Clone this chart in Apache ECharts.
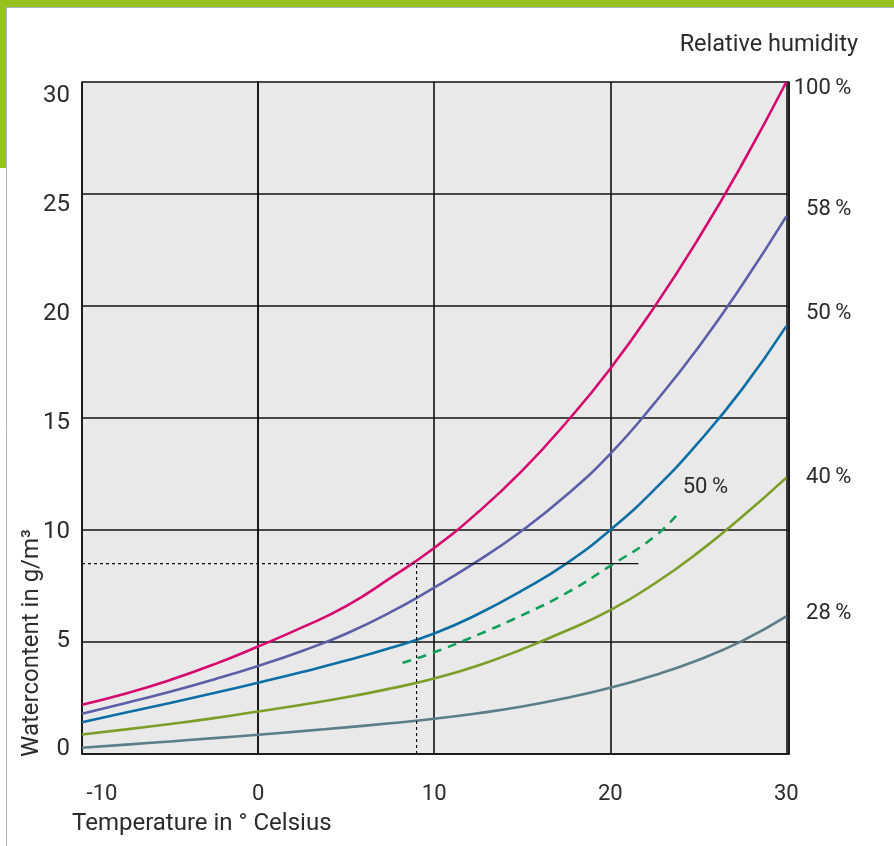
<!DOCTYPE html>
<html>
<head>
<meta charset="utf-8">
<title>Watercontent of air</title>
<script src="https://cdn.jsdelivr.net/npm/echarts@6/dist/echarts.min.js"></script>
<style>
  html, body { margin: 0; padding: 0; background: #ffffff; }
  #chart { width: 894px; height: 846px; }
</style>
</head>
<body>
<div id="chart"></div>
<script>
// Temperatures (°C) at which the humidity curves are sampled
const temps = [-10, -7.5, -5, -2.5, 0, 2.5, 5, 7.5, 10, 12.5, 15, 17.5, 20, 22.5, 25, 27.5, 30];

// Water content (g/m³) per curve
const rh100 = [2.2, 2.7, 3.3, 4.0, 4.8, 5.65, 6.6, 7.85, 9.2, 10.8, 12.65, 14.8, 17.2, 19.95, 23.0, 26.35, 30.0];
const rh58  = [1.8, 2.28, 2.78, 3.33, 3.93, 4.6, 5.37, 6.32, 7.43, 8.63, 9.98, 11.55, 13.4, 15.65, 18.15, 20.95, 24.0];
const rh50  = [1.42, 1.85, 2.28, 2.72, 3.18, 3.66, 4.17, 4.73, 5.38, 6.25, 7.3, 8.5, 10.0, 11.8, 13.9, 16.3, 19.1];
const rh40  = [0.87, 1.1, 1.34, 1.6, 1.9, 2.2, 2.53, 2.92, 3.37, 3.95, 4.68, 5.5, 6.42, 7.6, 9.0, 10.6, 12.34];
const rh28  = [0.28, 0.42, 0.56, 0.71, 0.86, 1.02, 1.19, 1.37, 1.57, 1.82, 2.12, 2.5, 2.96, 3.52, 4.2, 5.05, 6.14];

// Dashed 50 % curve (partial range)
const dashTemps = [8.2, 10, 12.5, 15, 17.5, 20, 22.5, 24];
const dash50    = [4.07, 4.54, 5.33, 6.2, 7.18, 8.4, 9.7, 10.87];

// Reading example: 9 °C at 8.5 g/m³, carried across to 21.6 °C
const refTemp = 9;
const refWater = 8.5;
const refEndTemp = 21.6;

// Axis ticks
const xTicks = [-10, 0, 10, 20, 30];
const yTicks = [0, 5, 10, 15, 20, 25, 30];

// Curve labels on the right
const curveLabels = ['100\u2009%', '58\u2009%', '50\u2009%', '40\u2009%', '28\u2009%'];
const innerLabel = '50\u2009%';

const FONT = 'Roboto';
const TEXT = '#2b2b2b';

const zip = (xs, ys) => xs.map((x, i) => [x, ys[i]]);

function curve(name, values, color, labelText, dy) {
  const last = values.length - 1;
  return {
    name: name,
    type: 'line',
    data: zip(temps, values),
    smooth: true,
    showSymbol: false,
    silent: true,
    clip: false,
    lineStyle: { color: color, width: 2.6 },
    markPoint: {
      symbol: 'circle',
      symbolSize: 0,
      silent: true,
      data: [{ coord: [temps[last], values[last]] }],
      label: {
        show: true,
        formatter: labelText,
        position: 'inside',
        align: 'right',
        verticalAlign: 'middle',
        offset: [65, dy],
        fontFamily: FONT,
        fontSize: 22,
        color: TEXT
      }
    }
  };
}

const chart = echarts.init(document.getElementById('chart'), null, { renderer: 'canvas' });

const option = {
  animation: false,
  backgroundColor: '#ffffff',
  grid: {
    left: 82, top: 82, right: 105, bottom: 92,
    show: true,
    backgroundColor: '#e8e9e8',
    borderColor: '#1e1e1e',
    borderWidth: 1.5
  },
  xAxis: {
    type: 'value',
    min: xTicks[0],
    max: 30.15,
    interval: 10,
    axisLine: { show: true, lineStyle: { color: '#111', width: 1.5 } },
    axisTick: { show: false },
    splitLine: { show: true, lineStyle: { color: '#111', width: 1.6 } },
    axisLabel: {
      margin: 29,
      fontFamily: FONT,
      fontSize: 22,
      color: TEXT,
      formatter: v => {
        if (!xTicks.includes(Math.round(v * 1000) / 1000)) return '';
        return v === xTicks[0] ? '{m|' + v + '}' : String(v);
      },
      rich: {
        m: { fontFamily: FONT, fontSize: 22, color: TEXT, padding: [0, 0, 0, 40] }
      }
    }
  },
  yAxis: [
    {
      type: 'value',
      min: yTicks[0],
      max: yTicks[yTicks.length - 1],
      interval: 5,
      axisLine: { show: true, lineStyle: { color: '#111', width: 1.5 } },
      axisTick: { show: false },
      axisLabel: { show: false },
      splitLine: { show: true, lineStyle: { color: '#474747', width: 2 } }
    },
    {
      // label-only axis, spaced slightly tighter than the grid lines
      type: 'value',
      min: -0.21,
      max: 30.66,
      splitNumber: 6,
      position: 'left',
      axisLine: { show: false },
      axisTick: { show: false },
      splitLine: { show: false },
      axisLabel: {
        margin: 12,
        fontFamily: FONT,
        fontSize: 24,
        color: TEXT,
        formatter: v => {
          const r = Math.round(v);
          return (Math.abs(v - r) < 1e-6 && yTicks.includes(r)) ? String(r) : '';
        }
      }
    }
  ],
  series: [
    curve('100 %', rh100, '#d6086f', curveLabels[0], 6.5),
    curve('58 %', rh58, '#5b5fa8', curveLabels[1], -7),
    curve('50 %', rh50, '#0b6fa6', curveLabels[2], -13),
    curve('40 %', rh40, '#7b9e27', curveLabels[3], 0),
    curve('28 %', rh28, '#5b7e88', curveLabels[4], -3),
    {
      name: 'dashed 50 %',
      type: 'line',
      data: zip(dashTemps, dash50),
      smooth: true,
      showSymbol: false,
      silent: true,
      lineStyle: { color: '#11a05a', width: 2.6, type: [9, 7] },
      markPoint: {
        symbol: 'circle',
        symbolSize: 0,
        silent: true,
        data: [{ coord: [dashTemps[dashTemps.length - 1], dash50[dash50.length - 1]] }],
        label: {
          show: true,
          formatter: innerLabel,
          position: 'inside',
          align: 'left',
          verticalAlign: 'middle',
          offset: [2, -23],
          fontFamily: FONT,
          fontSize: 22,
          color: TEXT
        }
      }
    },
    {
      name: 'ref horizontal dashed',
      type: 'line',
      data: [[xTicks[0], refWater], [refTemp, refWater]],
      showSymbol: false,
      silent: true,
      lineStyle: { color: '#111', width: 1.2, type: [3, 3] }
    },
    {
      name: 'ref horizontal solid',
      type: 'line',
      data: [[refTemp, refWater], [refEndTemp, refWater]],
      showSymbol: false,
      silent: true,
      lineStyle: { color: '#111', width: 1.3 }
    },
    {
      name: 'ref vertical dashed',
      type: 'line',
      data: [[refTemp, 0], [refTemp, refWater]],
      showSymbol: false,
      silent: true,
      lineStyle: { color: '#111', width: 1.2, type: [3, 3] }
    }
  ],
  graphic: [
    // page frame: green bars with a thin grey rule
    { type: 'rect', shape: { x: 0, y: 0, width: 894, height: 7 }, style: { fill: '#95c11f' }, silent: true },
    { type: 'rect', shape: { x: 0, y: 0, width: 6, height: 168 }, style: { fill: '#95c11f' }, silent: true },
    { type: 'line', shape: { x1: 6, y1: 7.5, x2: 894, y2: 7.5 }, style: { stroke: '#a9b6bf', lineWidth: 1 }, silent: true },
    { type: 'line', shape: { x1: 6.5, y1: 7, x2: 6.5, y2: 846 }, style: { stroke: '#a9b6bf', lineWidth: 1 }, silent: true },
    {
      type: 'text', x: 858, y: 45, silent: true,
      style: { text: 'Relative humidity', fontFamily: FONT, fontSize: 23.5, fill: TEXT, align: 'right', verticalAlign: 'middle' }
    },
    {
      type: 'text', x: 72, y: 824, silent: true,
      style: { text: 'Temperature in ° Celsius', fontFamily: FONT, fontSize: 24, fill: TEXT, align: 'left', verticalAlign: 'middle' }
    },
    {
      type: 'text', x: 32, y: 757, rotation: Math.PI / 2, silent: true,
      style: { text: 'Watercontent in g/m³', fontFamily: FONT, fontSize: 24, fill: TEXT, align: 'left', verticalAlign: 'middle' }
    }
  ]
};

chart.setOption(option);
</script>
</body>
</html>
